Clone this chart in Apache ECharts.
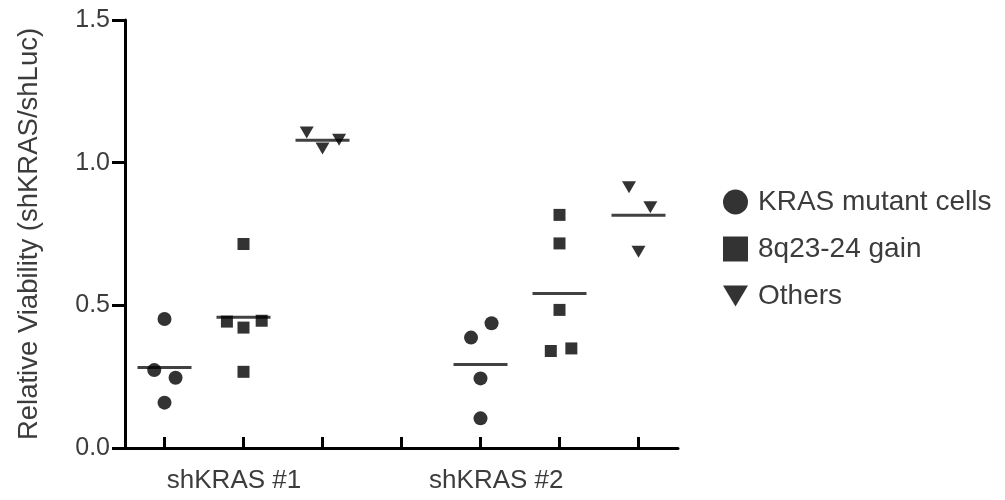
<!DOCTYPE html>
<html>
<head>
<meta charset="utf-8">
<script src="https://cdn.jsdelivr.net/npm/echarts@6/dist/echarts.min.js"></script>
<style>
  html, body { margin: 0; padding: 0; background: #fff; }
  #chart { width: 1005px; height: 500px; }
</style>
</head>
<body>
<div id="chart"></div>
<script>
// group labels under the x axis and where they sit (in column units)
const groups = ['shKRAS #1', 'shKRAS #2'];
const groupLabelPos = [1.88, 5.2];
const columnTicks = [1, 2, 3, 4, 5, 6, 7];

// [column position (with scatter spread), relative viability]
const krasMutant = [
  [1.0, 0.452], [0.87, 0.273], [1.14, 0.246], [1.0, 0.159],
  [4.88, 0.387], [5.14, 0.437], [5.0, 0.244], [5.0, 0.104]
];
const gain8q = [
  [2.0, 0.715], [1.79, 0.443], [2.0, 0.422], [2.23, 0.446], [2.0, 0.267],
  [6.0, 0.817], [6.0, 0.717], [6.0, 0.484], [5.89, 0.340], [6.15, 0.349]
];
const others = [
  [2.8, 1.106], [3.0, 1.05], [3.21, 1.08],
  [6.88, 0.914], [7.15, 0.844], [7.0, 0.688]
];

const seriesNames = ['KRAS mutant cells', '8q23-24 gain', 'Others'];
const downTriangle = 'path://M0,0 L12,0 L6,10 Z';

// mean of every column, drawn as a short bar
function columnMeans(points) {
  const cols = {};
  points.forEach(p => {
    const c = Math.round(p[0]);
    (cols[c] = cols[c] || []).push(p[1]);
  });
  return Object.keys(cols).map(c => {
    const v = cols[c];
    return [Number(c), v.reduce((a, b) => a + b, 0) / v.length];
  });
}
const means = [].concat(columnMeans(krasMutant), columnMeans(gain8q), columnMeans(others));

const textColor = '#3c3c3c';
const font = 'Liberation Sans, Arial, sans-serif';

const chart = echarts.init(document.getElementById('chart'));

chart.setOption({
  animation: false,
  grid: { left: 125, right: 327, top: 20, bottom: 52, containLabel: false },
  legend: {
    orient: 'vertical',
    left: 718,
    top: 183,
    itemWidth: 25,
    itemHeight: 25,
    itemGap: 19,
    itemStyle: { color: '#000' },
    textStyle: { fontSize: 28, color: textColor, fontFamily: font, lineHeight: 25, padding: [0, 0, 0, 5] },
    data: [
      { name: seriesNames[0], icon: 'circle' },
      { name: seriesNames[1], icon: 'rect' },
      { name: seriesNames[2], icon: downTriangle }
    ]
  },
  xAxis: {
    type: 'value',
    min: 0.5,
    max: 7.5,
    splitLine: { show: false },
    axisLine: { lineStyle: { color: '#000', width: 3 } },
    axisTick: {
      show: true,
      inside: true,
      length: 11,
      lineStyle: { color: '#000', width: 3 },
      customValues: columnTicks
    },
    axisLabel: {
      margin: 20,
      fontSize: 26,
      color: textColor,
      fontFamily: font,
      customValues: groupLabelPos,
      formatter: v => {
        const i = groupLabelPos.indexOf(v);
        return i >= 0 ? groups[i] : '';
      }
    }
  },
  yAxis: {
    type: 'value',
    min: 0,
    max: 1.5,
    interval: 0.5,
    name: 'Relative Viability (shKRAS/shLuc)',
    nameLocation: 'middle',
    nameGap: 82,
    nameTextStyle: { fontSize: 27.5, color: textColor, fontFamily: font },
    splitLine: { show: false },
    axisLine: { show: true, lineStyle: { color: '#000', width: 3 } },
    axisTick: { show: true, length: 13, lineStyle: { color: '#000', width: 3 } },
    axisLabel: {
      margin: 15,
      fontSize: 25,
      color: textColor,
      fontFamily: font,
      formatter: v => v.toFixed(1)
    }
  },
  series: [
    {
      name: seriesNames[0],
      type: 'scatter',
      symbol: 'circle',
      symbolSize: 14,
      itemStyle: { color: '#000' },
      data: krasMutant
    },
    {
      name: seriesNames[1],
      type: 'scatter',
      symbol: 'rect',
      symbolSize: 12,
      itemStyle: { color: '#000' },
      data: gain8q
    },
    {
      name: seriesNames[2],
      type: 'scatter',
      symbol: downTriangle,
      symbolSize: [14, 12],
      itemStyle: { color: '#000' },
      data: others
    },
    {
      name: 'Mean',
      type: 'scatter',
      symbol: 'rect',
      symbolSize: [54, 3],
      itemStyle: { color: '#111' },
      z: 1,
      data: means
    }
  ]
});
</script>
</body>
</html>
